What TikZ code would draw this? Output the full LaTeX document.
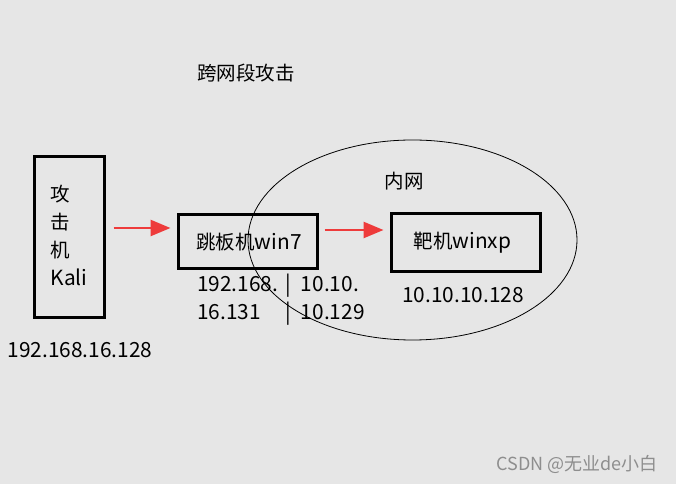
\documentclass[tikz,border=0pt]{standalone}
\usepackage{fontspec}
\setmainfont{Noto Sans CJK SC}
\newfontfamily\latfont[Scale=1.07]{Noto Sans CJK SC}
\usetikzlibrary{arrows.meta, positioning, calc, shapes.geometric}
\definecolor{bggray}{HTML}{E6E6E6}
\definecolor{arrred}{HTML}{EE3B3B}
\definecolor{wmgray}{HTML}{8E8E8E}

\begin{document}
\begin{tikzpicture}[
  x=1pt, y=1pt,
  hostbox/.style={draw=black, line width=3pt, align=center, inner sep=0pt,
    font=\fontsize{19.5}{28}\selectfont},
  lbl/.style={font=\fontsize{19.5}{28}\selectfont, inner sep=0pt},
  redarr/.style={-{Triangle[length=20pt, width=16pt]}, line width=2.6pt, arrred},
]

% Background
\fill[bggray] (0,0) rectangle (676,484);
\useasboundingbox (0,0) rectangle (676,484);

% Title
\node[lbl] (title) at (246,411) {跨网段攻击};

% Inner network
\node[draw, line width=0.8pt, ellipse, minimum width=329, minimum height=200,
  inner sep=0pt] (lan) at (412.5,244) {};
\node[lbl] (lanlbl) at (404,303) {内网};

% Attacker
\node[hostbox, minimum width=70, minimum height=161] (kali) at (69,246.5)
  {\begin{tabular}{@{}l@{}}攻\\击\\机\\{\latfont Kali}\end{tabular}};
\node[lbl] (kaliip) at (80,134) {\latfont 192.168.16.128};

% Jump host
\node[hostbox, minimum width=139, minimum height=54] (jump) at (247.5,242)
  {\hspace*{3pt}跳板机{\latfont win7}};
\node[lbl, anchor=north west] (jumpip) at (197,212)
  {\latfont\begin{tabular}{@{}l@{\hspace{7pt}}l@{\hspace{10pt}}l@{}}
   192.168. & | & 10.10.\\
   16.131 & | & 10.129
   \end{tabular}};

% Target
\node[hostbox, minimum width=149, minimum height=58] (target) at (465.5,241)
  {靶机{\latfont winxp}\hspace*{6pt}};
\node[lbl] (targetip) at (463,189) {\latfont 10.10.10.128};

% Arrows
\draw[redarr, shorten >=6pt] ([xshift=8pt,yshift=9.5pt]kali.east) -- ([yshift=14pt]jump.west);
\draw[redarr, shorten >=6pt] ([xshift=6pt,yshift=12pt]jump.east) -- ([yshift=13pt]target.west);

% Watermark
\node[font=\fontsize{18}{22}\selectfont, text=wmgray] (wm) at (577,20) {CSDN @无业de小白};

\end{tikzpicture}
\end{document}
